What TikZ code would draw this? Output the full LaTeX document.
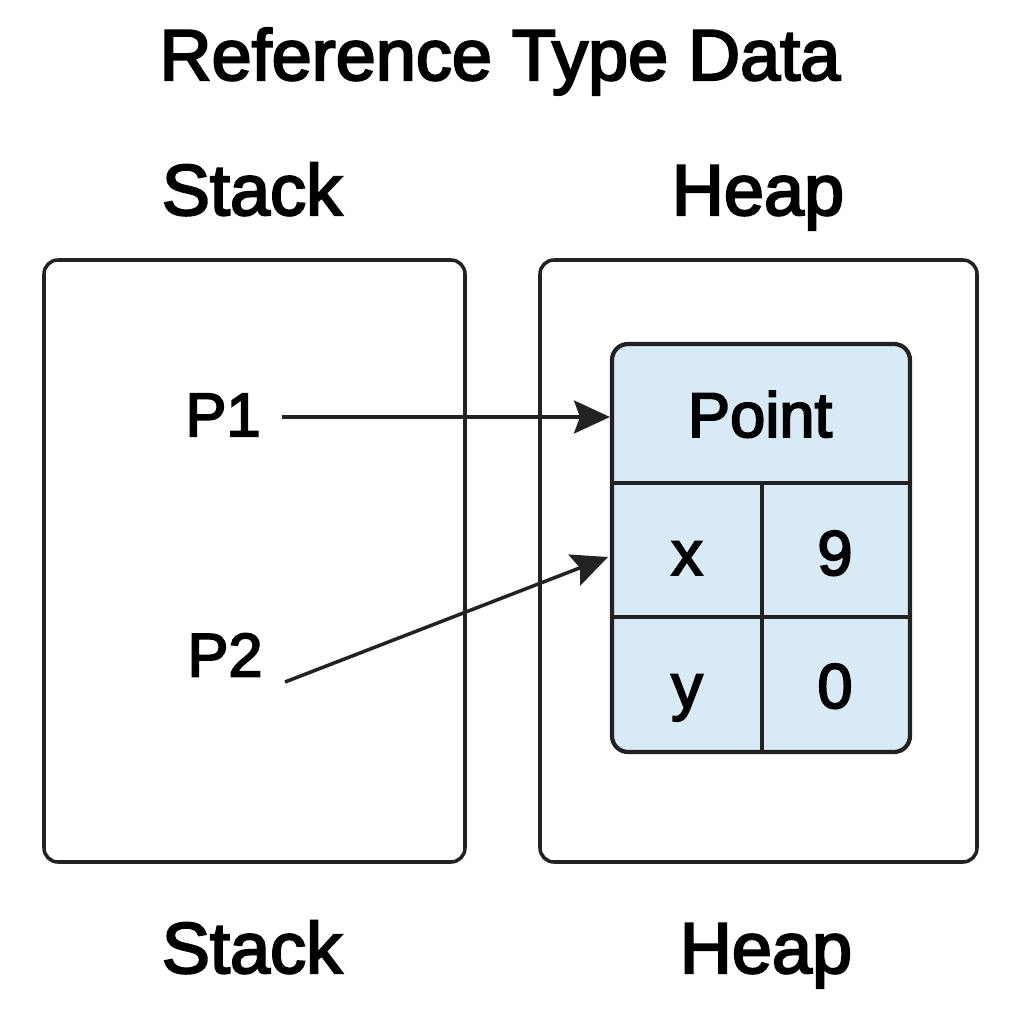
\documentclass[tikz,border=0pt]{standalone}
\usepackage{fontspec}
\setmainfont{Liberation Sans}[FakeBold=3]
\usetikzlibrary{arrows.meta}

\definecolor{inkgray}{RGB}{34,34,34}
\definecolor{cellblue}{RGB}{215,234,245}

\tikzset{
    membox/.style={draw=inkgray, line width=1pt, rounded corners=0.14cm, inner sep=0pt},
    objbox/.style={draw=inkgray, fill=cellblue, line width=1.2pt, rounded corners=0.16cm, inner sep=0pt},
    bigtxt/.style={font=\fontsize{20.5}{24}\selectfont, anchor=base, inner sep=0pt},
    vartxt/.style={font=\fontsize{17.5}{21}\selectfont, inner sep=0.12cm},
    celltxt/.style={font=\fontsize{18}{22}\selectfont, anchor=base, inner sep=0pt},
    ref/.style={draw=inkgray, line width=1pt, -{Stealth[length=3.6mm,width=3.3mm,inset=0.6mm]}}
}

\begin{document}
\begin{tikzpicture}
    \useasboundingbox (0,0) rectangle (10.24,10.24);

    % headings
    \node[bigtxt] (title)   at (5.00,9.44) {Reference Type Data};
    \node[bigtxt] (stackhd) at (2.52,8.09) {Stack};
    \node[bigtxt] (heaphd)  at (7.58,8.09) {Heap};
    \node[bigtxt] (stackft) at (2.52,0.51) {Stack};
    \node[bigtxt] (heapft)  at (7.66,0.51) {Heap};

    % memory areas
    \node[membox, minimum width=4.21cm, minimum height=6.02cm] (stack) at (2.545,4.63) {};
    \node[membox, minimum width=4.37cm, minimum height=6.02cm] (heap)  at (7.585,4.63) {};

    % object on the heap
    \node[objbox, minimum width=2.98cm, minimum height=4.08cm] (point) at (7.61,4.76) {};
    \draw[inkgray, line width=1.2pt] (6.12,5.41) -- (9.10,5.41);
    \draw[inkgray, line width=1.2pt] (6.12,4.07) -- (9.10,4.07);
    \draw[inkgray, line width=1.2pt] (7.62,5.41) -- (7.62,2.72);

    \node[celltxt] (pname) at (7.60,5.87) {Point};
    \node[celltxt] (xkey)  at (6.87,4.49) {x};
    \node[celltxt] (xval)  at (8.35,4.49) {9};
    \node[celltxt] (ykey)  at (6.87,3.16) {y};
    \node[celltxt] (yval)  at (8.35,3.16) {0};
    \coordinate (pin)  at (6.10,6.07);
    \coordinate (xin)  at (6.08,4.67);

    % references on the stack
    \node[vartxt] (p1) at (2.23,6.09) {P1};
    \node[vartxt] (p2) at (2.25,3.69) {P2};
    \coordinate (p1out) at (2.82,6.07);
    \coordinate (p2out) at (2.85,3.42);

    \draw[ref] (p1out) -- (pin);
    \draw[ref] (p2out) -- (xin);
\end{tikzpicture}
\end{document}
